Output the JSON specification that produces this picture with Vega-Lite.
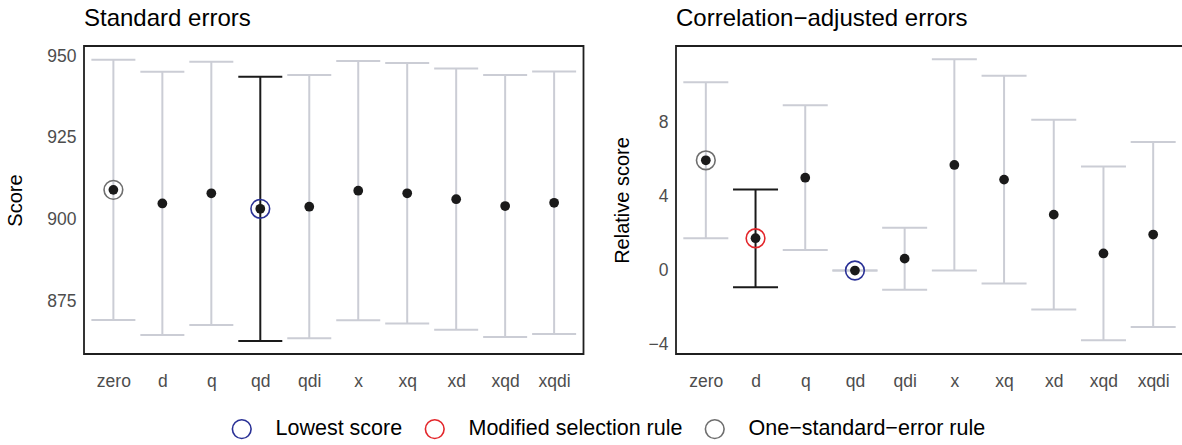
{
  "$schema": "https://vega.github.io/schema/vega-lite/v6.json",
  "padding": {"left": 4, "top": 6, "right": 0, "bottom": 0},
  "background": "white",
  "spacing": 26,
  "config": {
    "font": "Liberation Sans",
    "view": {"stroke": "#1f1f1f", "strokeWidth": 1.8},
    "axis": {"grid": false, "ticks": false, "tickSize": 0, "domain": false, "labelFont": "Liberation Sans", "labelFontSize": 17.5, "labelColor": "#4d4d4d", "titleFont": "Liberation Sans", "titleFontSize": 20, "titleFontWeight": "normal", "titleColor": "#000000"},
    "title": {"font": "Liberation Sans", "fontSize": 24, "fontWeight": "normal", "anchor": "start", "frame": "group", "offset": 15, "color": "#000000"},
    "legend": {"orient": "none", "legendX": 147, "legendY": 372, "direction": "horizontal", "title": null, "labelFont": "Liberation Sans", "labelFontSize": 21.5, "labelColor": "#000000", "labelLimit": 0, "symbolSize": 350, "symbolStrokeWidth": 1.6, "symbolType": "circle", "labelOffset": 23, "columnPadding": 19, "padding": 0}
  },
  "datasets": {
    "se": [
      {"model": "zero", "score": 909.05, "lo": 869.2, "hi": 948.9, "sel": false, "rule": "One−standard−error rule"},
      {"model": "d", "score": 904.9, "lo": 864.6, "hi": 945.2, "sel": false, "rule": null},
      {"model": "q", "score": 908.0, "lo": 867.7, "hi": 948.3, "sel": false, "rule": null},
      {"model": "qd", "score": 903.25, "lo": 862.8, "hi": 943.7, "sel": true, "rule": "Lowest score"},
      {"model": "qdi", "score": 903.9, "lo": 863.6, "hi": 944.2, "sel": false, "rule": null},
      {"model": "x", "score": 908.8, "lo": 869.1, "hi": 948.5, "sel": false, "rule": null},
      {"model": "xq", "score": 908.0, "lo": 868.1, "hi": 947.9, "sel": false, "rule": null},
      {"model": "xd", "score": 906.2, "lo": 866.2, "hi": 946.2, "sel": false, "rule": null},
      {"model": "xqd", "score": 904.1, "lo": 864.0, "hi": 944.2, "sel": false, "rule": null},
      {"model": "xqdi", "score": 905.1, "lo": 864.9, "hi": 945.3, "sel": false, "rule": null}
    ],
    "ca": [
      {"model": "zero", "score": 5.94, "lo": 1.74, "hi": 10.15, "sel": false, "rule": "One−standard−error rule"},
      {"model": "d", "score": 1.74, "lo": -0.9, "hi": 4.37, "sel": true, "rule": "Modified selection rule"},
      {"model": "q", "score": 5.0, "lo": 1.11, "hi": 8.9, "sel": false, "rule": null},
      {"model": "qd", "score": 0, "lo": 0, "hi": 0, "sel": false, "rule": "Lowest score"},
      {"model": "qdi", "score": 0.64, "lo": -1.04, "hi": 2.31, "sel": false, "rule": null},
      {"model": "x", "score": 5.69, "lo": 0, "hi": 11.38, "sel": false, "rule": null},
      {"model": "xq", "score": 4.9, "lo": -0.7, "hi": 10.5, "sel": false, "rule": null},
      {"model": "xd", "score": 3.01, "lo": -2.1, "hi": 8.12, "sel": false, "rule": null},
      {"model": "xqd", "score": 0.92, "lo": -3.76, "hi": 5.61, "sel": false, "rule": null},
      {"model": "xqdi", "score": 1.94, "lo": -3.05, "hi": 6.92, "sel": false, "rule": null}
    ]
  },
  "hconcat": [
    {
      "width": 499.5,
      "height": 308,
      "title": "Standard errors",
      "data": {"name": "se"},
      "encoding": {
        "x": {"field": "model", "type": "nominal", "sort": ["zero", "d", "q", "qd", "qdi", "x", "xq", "xd", "xqd", "xqdi"], "scale": {"type": "point", "padding": 0.6}, "axis": {"title": null, "labelAngle": 0, "labelPadding": 18.5}}
      },
      "layer": [
        {"transform": [{"filter": "!datum.sel"}], "mark": {"type": "rule", "color": "#cbcdd5", "strokeWidth": 2},
         "encoding": {"y": {"field": "lo", "type": "quantitative", "title": "Score", "scale": {"domain": [858.8, 953.1], "nice": false, "zero": false}, "axis": {"values": [875, 900, 925, 950], "labelPadding": 8, "titlePadding": 21}}, "y2": {"field": "hi"}}},
        {"transform": [{"filter": "!datum.sel"}], "mark": {"type": "tick", "color": "#cbcdd5", "thickness": 2, "size": 44, "opacity": 1},
         "encoding": {"y": {"field": "lo", "type": "quantitative", "title": "Score"}}},
        {"transform": [{"filter": "!datum.sel"}], "mark": {"type": "tick", "color": "#cbcdd5", "thickness": 2, "size": 44, "opacity": 1},
         "encoding": {"y": {"field": "hi", "type": "quantitative", "title": "Score"}}},
        {"transform": [{"filter": "datum.sel"}], "mark": {"type": "rule", "color": "#1a1a1a", "strokeWidth": 2},
         "encoding": {"y": {"field": "lo", "type": "quantitative", "title": "Score"}, "y2": {"field": "hi"}}},
        {"transform": [{"filter": "datum.sel"}], "mark": {"type": "tick", "color": "#1a1a1a", "thickness": 2, "size": 44, "opacity": 1},
         "encoding": {"y": {"field": "lo", "type": "quantitative", "title": "Score"}}},
        {"transform": [{"filter": "datum.sel"}], "mark": {"type": "tick", "color": "#1a1a1a", "thickness": 2, "size": 44, "opacity": 1},
         "encoding": {"y": {"field": "hi", "type": "quantitative", "title": "Score"}}},
        {"transform": [{"filter": "datum.rule != null"}], "mark": {"type": "point", "shape": "circle", "filled": false, "size": 350, "strokeWidth": 1.6, "opacity": 1},
         "encoding": {"y": {"field": "score", "type": "quantitative", "title": "Score"}, "color": {"field": "rule", "type": "nominal", "scale": {"domain": ["Lowest score", "Modified selection rule", "One−standard−error rule"], "range": ["#2a3196", "#e3262b", "#6e6e6e"]}}}},
        {"mark": {"type": "point", "shape": "circle", "filled": true, "size": 95, "color": "#1a1a1a", "opacity": 1},
         "encoding": {"y": {"field": "score", "type": "quantitative", "title": "Score"}}}
      ]
    },
    {
      "width": 507,
      "height": 308,
      "title": "Correlation−adjusted errors",
      "data": {"name": "ca"},
      "encoding": {
        "x": {"field": "model", "type": "nominal", "sort": ["zero", "d", "q", "qd", "qdi", "x", "xq", "xd", "xqd", "xqdi"], "scale": {"type": "point", "padding": 0.6}, "axis": {"title": null, "labelAngle": 0, "labelPadding": 18.5}}
      },
      "layer": [
        {"transform": [{"filter": "!datum.sel"}], "mark": {"type": "rule", "color": "#cbcdd5", "strokeWidth": 2},
         "encoding": {"y": {"field": "lo", "type": "quantitative", "title": "Relative score", "scale": {"domain": [-4.5, 12.1], "nice": false, "zero": false}, "axis": {"values": [-4, 0, 4, 8], "labelPadding": 8, "titlePadding": 15.6}}, "y2": {"field": "hi"}}},
        {"transform": [{"filter": "!datum.sel"}], "mark": {"type": "tick", "color": "#cbcdd5", "thickness": 2, "size": 45, "opacity": 1},
         "encoding": {"y": {"field": "lo", "type": "quantitative", "title": "Relative score"}}},
        {"transform": [{"filter": "!datum.sel"}], "mark": {"type": "tick", "color": "#cbcdd5", "thickness": 2, "size": 45, "opacity": 1},
         "encoding": {"y": {"field": "hi", "type": "quantitative", "title": "Relative score"}}},
        {"mark": {"type": "rule", "color": "#5f6368", "strokeWidth": 2, "strokeDash": [10, 10]},
         "encoding": {"y": {"datum": 0, "type": "quantitative", "title": "Relative score"}}},
        {"transform": [{"filter": "datum.sel"}], "mark": {"type": "rule", "color": "#1a1a1a", "strokeWidth": 2},
         "encoding": {"y": {"field": "lo", "type": "quantitative", "title": "Relative score"}, "y2": {"field": "hi"}}},
        {"transform": [{"filter": "datum.sel"}], "mark": {"type": "tick", "color": "#1a1a1a", "thickness": 2, "size": 45, "opacity": 1},
         "encoding": {"y": {"field": "lo", "type": "quantitative", "title": "Relative score"}}},
        {"transform": [{"filter": "datum.sel"}], "mark": {"type": "tick", "color": "#1a1a1a", "thickness": 2, "size": 45, "opacity": 1},
         "encoding": {"y": {"field": "hi", "type": "quantitative", "title": "Relative score"}}},
        {"transform": [{"filter": "datum.rule != null"}], "mark": {"type": "point", "shape": "circle", "filled": false, "size": 350, "strokeWidth": 1.6, "opacity": 1},
         "encoding": {"y": {"field": "score", "type": "quantitative", "title": "Relative score"}, "color": {"field": "rule", "type": "nominal", "scale": {"domain": ["Lowest score", "Modified selection rule", "One−standard−error rule"], "range": ["#2a3196", "#e3262b", "#6e6e6e"]}}}},
        {"mark": {"type": "point", "shape": "circle", "filled": true, "size": 95, "color": "#1a1a1a", "opacity": 1},
         "encoding": {"y": {"field": "score", "type": "quantitative", "title": "Relative score"}}}
      ]
    }
  ],
  "resolve": {"scale": {"color": "shared"}, "legend": {"color": "shared"}}
}
